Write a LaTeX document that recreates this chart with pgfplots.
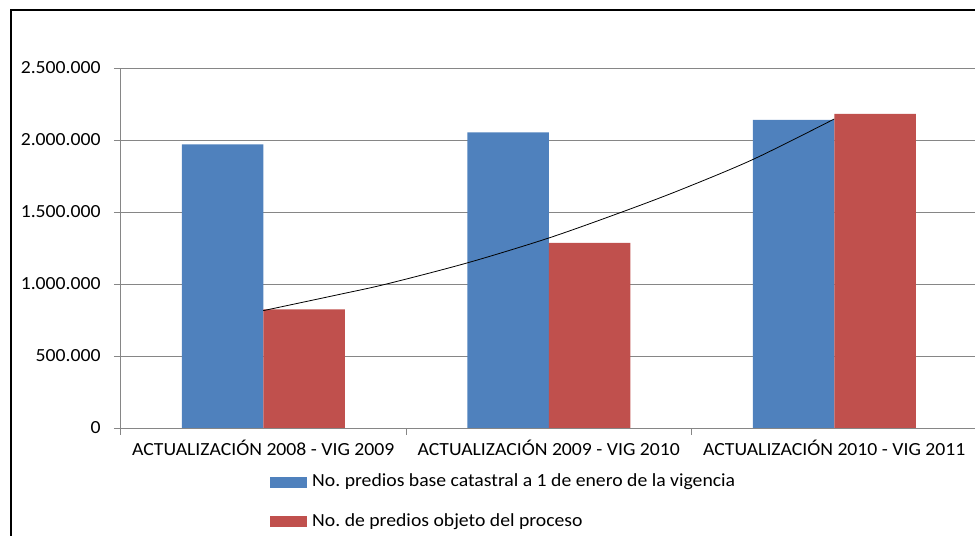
\documentclass[border=0pt]{standalone}
\usepackage{pgfplots}
\pgfplotsset{compat=1.18}
\usepackage{fontspec}
\setmainfont{Carlito}[FakeStretch=1.065]
\definecolor{cblue}{HTML}{4F81BD}
\definecolor{cred}{HTML}{C0504D}
\definecolor{cgrid}{HTML}{868686}
\frenchspacing
\begin{document}
\fontsize{18.5bp}{22bp}\selectfont
\begin{tikzpicture}
\path[use as bounding box] (0,0) rectangle (975bp,536bp);
\clip (0,0) rectangle (975bp,536bp);
\draw[line width=2bp] (11bp,-5bp) -- (11bp,526bp) -- (990bp,526bp);
\begin{axis}[
  at={(120.5bp,108bp)}, anchor=south west,
  scale only axis, width=856.5bp, height=360bp,
  xmin=-0.5, xmax=2.5, ymin=0, ymax=2500000,
  axis x line*=bottom, axis y line*=left,
  axis line style={cgrid, line width=0.75bp, -},
  ytick={0,500000,1000000,1500000,2000000,2500000},
  yticklabels={0,500.000,1.000.000,1.500.000,2.000.000,2.500.000},
  scaled y ticks=false,
  ymajorgrids, grid style={cgrid, line width=0.75bp},
  tick align=outside, major tick length=6.5bp,
  tick style={cgrid, line width=0.75bp},
  xtick={-0.5,0.5,1.5,2.5}, xticklabels={},
  extra x ticks={0,1,2},
  extra x tick labels={ACTUALIZACIÓN 2008 - VIG 2009, ACTUALIZACIÓN 2009 - VIG 2010, ACTUALIZACIÓN 2010 - VIG 2011},
  extra x tick style={major tick length=0pt},
  xticklabel style={font=\fontsize{18.5bp}{22bp}\selectfont\frenchspacing, text=black, yshift=-6bp},
  yticklabel style={font=\fontsize{18.5bp}{22bp}\selectfont, text=black, xshift=-7bp},
  legend style={draw=none, fill=none, at={(0.1711,-0.2049)}, anchor=west,
    nodes={inner sep=0pt, text height=13bp, text depth=4bp, font=\fontsize{18.5bp}{22bp}\selectfont\frenchspacing},
    row sep=22.5bp, column sep=5bp},
  legend cell align=left,
  legend image code/.code={\fill[#1] (0bp,-5.5bp) rectangle (37bp,5.5bp);},
]
\addplot[ybar, bar width=81.5bp, bar shift=-40.75bp, fill=cblue, draw=none]
  coordinates {(0,1970000) (1,2053000) (2,2139000)};
\addlegendentry{No. predios base catastral a 1 de enero de la vigencia}
\addplot[ybar, bar width=81.5bp, bar shift=40.75bp, fill=cred, draw=none]
  coordinates {(0,824000) (1,1285000) (2,2181000)};
\addlegendentry{No. de predios objeto del proceso}
\addplot[black, line width=0.8bp, smooth, forget plot] coordinates {
  (0,815000) (0.2688,928500) (0.432,1000000) (0.717,1147900)
  (1.0,1319400) (1.2566,1500000) (1.4597,1652800) (1.7165,1866000) (2.0,2145800)};
\end{axis}
\end{tikzpicture}
\end{document}
